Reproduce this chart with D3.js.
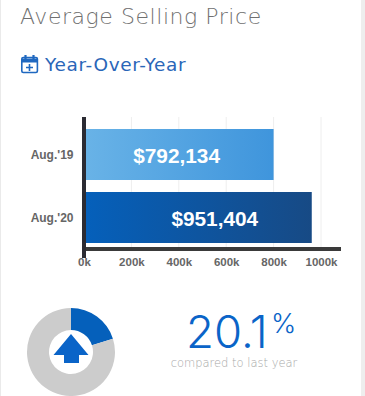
<!DOCTYPE html>
<html>
<head>
<meta charset="utf-8">
<script src="https://cdn.jsdelivr.net/npm/d3@7"></script>
<style>
  html, body { margin: 0; padding: 0; background: #fff; overflow: hidden; }
</style>
</head>
<body>
<div id="chart"></div>
<script>
var figw = 365
var figh = 396

var categories = ["Aug.'19", "Aug.'20"]
// bar lengths as drawn in the picture, the labels are the printed prices
var barValues = [800000, 961000]
var barLabels = ["$792,134", "$951,404"]
var tickValues = [0, 200000, 400000, 600000, 800000, 1000000]
var changeParts = [20.1, 79.9]

var thinFont = "'DejaVu Sans', sans-serif"
var numFont = "Inter, sans-serif"
var boldFont = "'Liberation Sans', Arial, sans-serif"

var svg = d3.select("#chart")
  .append("svg")
    .attr("width", figw)
    .attr("height", figh)
    .style("display", "block")

// grey card edges
svg.append("rect").attr("x", 0).attr("y", 0).attr("width", 1).attr("height", figh).attr("fill", "#eaeaea")
svg.append("rect").attr("x", 361).attr("y", 0).attr("width", 4).attr("height", figh).attr("fill", "#eeeeee")

svg.append("text")
  .attr("x", 20).attr("y", 24)
  .attr("font-family", thinFont).attr("font-weight", 200)
  .attr("font-size", 22).attr("letter-spacing", 0.55).attr("fill", "#707070")
  .text("Average Selling Price")

// calendar icon
var icon = svg.append("g").attr("transform", "translate(21,55)")
  .attr("fill", "none").attr("stroke", "#1f68c0").attr("stroke-width", 1.6)
icon.append("rect").attr("x", 0.8).attr("y", 2.5).attr("width", 15.6).attr("height", 15).attr("rx", 1.5)
icon.append("path").attr("d", "M0.8 5.5H16.4").attr("stroke-width", 4)
icon.append("path").attr("d", "M4.5 0V4M12.5 0V4").attr("stroke-width", 2.2)
icon.append("path").attr("d", "M5 12.5H12M8.5 9V16")

svg.append("text")
  .attr("x", 45).attr("y", 71)
  .attr("font-family", thinFont).attr("font-weight", 400)
  .attr("font-size", 18.5).attr("letter-spacing", 0.65).attr("fill", "#2a66b8")
  .text("Year-Over-Year")

// set up the bar chart scales
var x = d3.scaleLinear().domain([0, 1000000]).range([84, 321])
var y = d3.scaleBand().domain(categories).range([129, 243]).paddingInner(12 / 63)

var defs = svg.append("defs")
var gradients = [["#69b3e7", "#3f95dc"], ["#0560bb", "#174a85"]]
gradients.forEach(function(g, i) {
  var grad = defs.append("linearGradient").attr("id", "bar" + i)
  grad.append("stop").attr("offset", "0%").attr("stop-color", g[0])
  grad.append("stop").attr("offset", "100%").attr("stop-color", g[1])
})

// gridlines
svg.append("g")
  .selectAll("line")
  .data(tickValues.slice(1))
  .enter()
  .append("line")
    .attr("x1", function (d) { return x(d) })
    .attr("x2", function (d) { return x(d) })
    .attr("y1", 117)
    .attr("y2", 247)
    .attr("stroke", "#eeeeee")

// bars
svg.append("g")
  .selectAll("rect")
  .data(barValues)
  .enter()
  .append("rect")
    .attr("x", x(0))
    .attr("y", function (d, i) { return y(categories[i]) })
    .attr("width", function (d) { return x(d) - x(0) })
    .attr("height", y.bandwidth())
    .attr("fill", function (d, i) { return "url(#bar" + i + ")" })

// value labels, at a fixed distance from the bar end
svg.append("g")
  .selectAll("text")
  .data(barValues)
  .enter()
  .append("text")
    .attr("x", function (d) { return x(d) - 97 })
    .attr("y", function (d, i) { return y(categories[i]) + y.bandwidth() / 2 + 8 })
    .attr("text-anchor", "middle")
    .attr("font-family", boldFont).attr("font-weight", 700)
    .attr("font-size", 20.8).attr("fill", "#fff")
    .text(function (d, i) { return barLabels[i] })

// category labels
svg.append("g")
  .selectAll("text")
  .data(categories)
  .enter()
  .append("text")
    .attr("x", 73.5)
    .attr("y", function (d) { return y(d) + y.bandwidth() / 2 + 4 })
    .attr("text-anchor", "end")
    .attr("font-family", boldFont).attr("font-weight", 700)
    .attr("font-size", 12).attr("fill", "#666")
    .text(function (d) { return d })

// axes
var xAxis = d3.axisBottom(x)
  .tickValues(tickValues)
  .tickSize(0)
  .tickPadding(7)
  .tickFormat(function (d) { return (d / 1000) + "k" })

var axisG = svg.append("g").attr("transform", "translate(0,251)").call(xAxis)
axisG.select(".domain").remove()
axisG.selectAll("text")
  .attr("font-family", boldFont).attr("font-weight", 700)
  .attr("font-size", 11.5).attr("fill", "#666")

svg.append("rect").attr("x", 82).attr("y", 247).attr("width", 259).attr("height", 4).attr("fill", "#3a3a3a")
svg.append("rect").attr("x", 82).attr("y", 117).attr("width", 4).attr("height", 141).attr("fill", "#2b2b33")

// donut
var pie = d3.pie().sort(null)
var arc = d3.arc().innerRadius(22).outerRadius(44)
var donut = svg.append("g").attr("transform", "translate(71,352)")
donut.selectAll("path")
  .data(pie(changeParts))
  .enter()
  .append("path")
    .attr("d", arc)
    .attr("fill", function (d, i) { return i == 0 ? "#0560bb" : "#cccccc" })

// arrow in the hole
donut.append("path")
  .attr("d", "M0 -18L17.5 3H8V11H-7V3H-17.5Z")
  .attr("fill", "#0a64c8")

svg.append("text")
  .attr("x", 186).attr("y", 348)
  .attr("font-family", numFont).attr("font-weight", 300)
  .attr("font-size", 45.5).attr("fill", "#0a64c8")
  .text("20.1")

svg.append("text")
  .attr("x", 271).attr("y", 333)
  .attr("font-family", numFont).attr("font-weight", 300)
  .attr("font-size", 27).attr("fill", "#0a64c8")
  .text("%")

svg.append("text")
  .attr("x", 234).attr("y", 367)
  .attr("text-anchor", "middle")
  .attr("font-family", thinFont).attr("font-weight", 200)
  .attr("font-size", 11.5).attr("fill", "#a8a8a8")
  .text("compared to last year")
</script>
</body>
</html>
